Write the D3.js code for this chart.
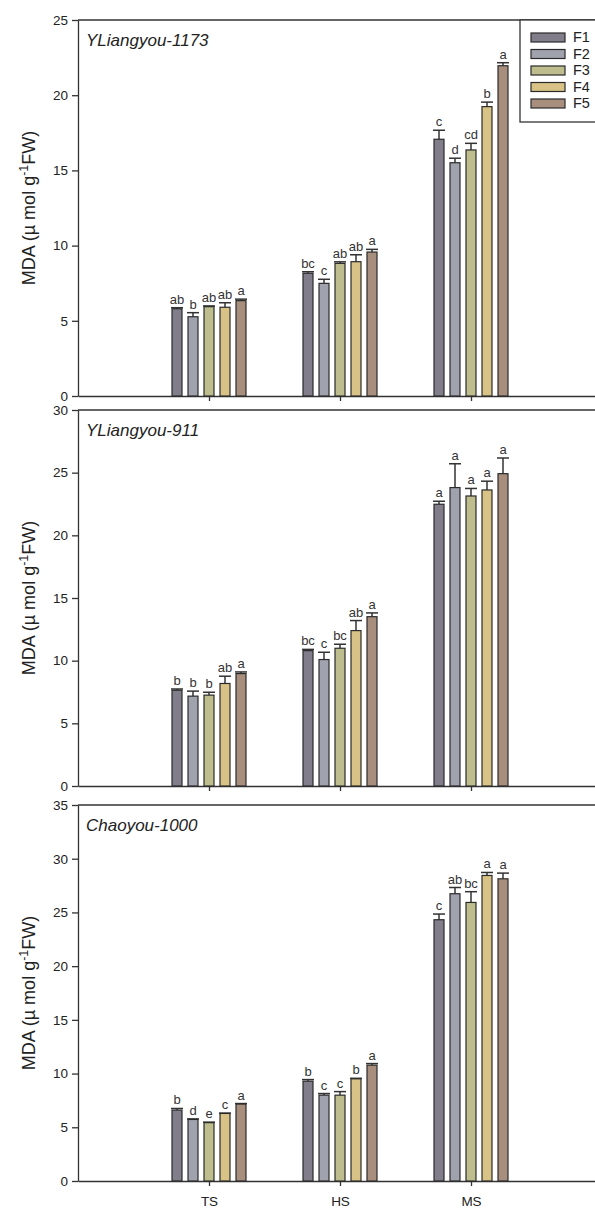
<!DOCTYPE html>
<html>
<head>
<meta charset="utf-8">
<script src="https://cdn.jsdelivr.net/npm/d3@7"></script>
<style>
  body { margin: 0; background: #fff; }
  svg { display: block; font-family: 'Liberation Sans', Arial, sans-serif; }
</style>
</head>
<body>
<svg id="chart" width="595" height="1209"></svg>
<script>
const stages = ['TS', 'HS', 'MS'];
const treatments = ['F1', 'F2', 'F3', 'F4', 'F5'];
const cultivars = ['YLiangyou-1173', 'YLiangyou-911', 'Chaoyou-1000'];
const yMaxes = [25, 30, 35];
const colors = ['#817d8b', '#a0a2ae', '#bdbd8e', '#d8c285', '#a88f7d'];

// means per stage (rows) x treatment (cols)
const means1173 = [
  [5.80, 5.27, 5.94, 5.90, 6.34],
  [8.16, 7.49, 8.82, 8.93, 9.57],
  [17.07, 15.51, 16.36, 19.24, 21.96],
];
const errs1173 = [
  [0.07, 0.27, 0.05, 0.30, 0.10],
  [0.10, 0.27, 0.10, 0.46, 0.18],
  [0.60, 0.30, 0.44, 0.30, 0.20],
];
const letters1173 = [
  ['ab', 'b', 'ab', 'ab', 'a'],
  ['bc', 'c', 'ab', 'ab', 'a'],
  ['c', 'd', 'cd', 'b', 'a'],
];

const means911 = [
  [7.64, 7.17, 7.25, 8.18, 8.97],
  [10.80, 10.09, 10.99, 12.40, 13.51],
  [22.48, 23.81, 23.14, 23.62, 24.92],
];
const errs911 = [
  [0.10, 0.40, 0.23, 0.58, 0.13],
  [0.10, 0.58, 0.32, 0.80, 0.30],
  [0.24, 1.90, 0.60, 0.70, 1.25],
];
const letters911 = [
  ['b', 'b', 'b', 'ab', 'a'],
  ['bc', 'c', 'bc', 'ab', 'a'],
  ['a', 'a', 'a', 'a', 'a'],
];

const means1000 = [
  [6.60, 5.73, 5.43, 6.29, 7.16],
  [9.29, 7.99, 7.99, 9.51, 10.78],
  [24.32, 26.74, 25.93, 28.44, 28.13],
];
const errs1000 = [
  [0.15, 0.05, 0.05, 0.03, 0.05],
  [0.15, 0.15, 0.33, 0.05, 0.15],
  [0.53, 0.58, 1.00, 0.28, 0.53],
];
const letters1000 = [
  ['b', 'd', 'e', 'c', 'a'],
  ['b', 'c', 'c', 'b', 'a'],
  ['c', 'ab', 'bc', 'a', 'a'],
];

const panelMeans = [means1173, means911, means1000];
const panelErrs = [errs1173, errs911, errs1000];
const panelLetters = [letters1173, letters911, letters1000];

const svg = d3.select('#chart');
const ink = '#333';
const left = 78;
const plotH = 376;
const tops = [20, 410, 805];

// stage positions: TS=1, HS=2, MS=3 on a 0..4 axis
const x = d3.scaleLinear().domain([0, 4]).range([left, 602]);
const xOff = d3.scaleBand()
  .domain(treatments)
  .range([-40, 40])
  .paddingInner(0.375)
  .paddingOuter(0.1875);

cultivars.forEach((name, p) => {
  const top = tops[p];
  const y = d3.scaleLinear().domain([0, yMaxes[p]]).range([top + plotH, top]);
  const g = svg.append('g').attr('class', 'panel');

  // frame top line
  g.append('line')
    .attr('x1', left).attr('x2', x(4))
    .attr('y1', top).attr('y2', top)
    .attr('stroke', ink).attr('stroke-width', 1.3);

  const yAxis = g.append('g')
    .attr('transform', `translate(${left},0)`)
    .call(d3.axisLeft(y).tickValues(d3.range(0, yMaxes[p] + 1, 5)).tickSize(6).tickSizeOuter(0).tickPadding(4));
  yAxis.selectAll('path, line').attr('stroke', ink).attr('stroke-width', 1.3);
  yAxis.selectAll('text').attr('font-size', 13.5).attr('fill', '#222')
    .attr('font-family', "'Liberation Sans', Arial, sans-serif");

  const xAxis = g.append('g')
    .attr('transform', `translate(0,${top + plotH})`)
    .call(d3.axisBottom(x).tickValues([1, 2, 3]).tickSize(5).tickSizeOuter(0).tickPadding(10)
      .tickFormat(d => (p === 2 ? stages[d - 1] : '')));
  xAxis.selectAll('path, line').attr('stroke', ink).attr('stroke-width', 1.3);
  xAxis.selectAll('text').attr('font-size', 13.5).attr('fill', '#222')
    .attr('font-family', "'Liberation Sans', Arial, sans-serif");

  // bars
  stages.forEach((s, si) => {
    const cx = x(si + 1);
    treatments.forEach((t, ti) => {
      const v = panelMeans[p][si][ti];
      const e = panelErrs[p][si][ti];
      const bx = cx + xOff(t);
      const bw = xOff.bandwidth();
      const mid = bx + bw / 2;

      g.append('line')
        .attr('x1', mid).attr('x2', mid)
        .attr('y1', y(v)).attr('y2', y(v + e))
        .attr('stroke', ink).attr('stroke-width', 1.5);
      g.append('line')
        .attr('x1', mid - 6).attr('x2', mid + 6)
        .attr('y1', y(v + e)).attr('y2', y(v + e))
        .attr('stroke', ink).attr('stroke-width', 1.5);

      g.append('rect')
        .attr('x', bx)
        .attr('y', y(v))
        .attr('width', bw)
        .attr('height', y(0) - y(v))
        .attr('fill', colors[ti])
        .attr('stroke', '#2a2a2a')
        .attr('stroke-width', 1.2);

      g.append('text')
        .attr('x', mid)
        .attr('y', y(v + e) - 4)
        .attr('text-anchor', 'middle')
        .attr('font-size', 13)
        .attr('fill', '#333')
        .text(panelLetters[p][si][ti]);
    });
  });

  // cultivar title
  g.append('text')
    .attr('x', 86)
    .attr('y', top + 26)
    .attr('font-size', 17)
    .attr('font-style', 'italic')
    .attr('fill', '#222')
    .text(name);

  // y label
  const label = g.append('text')
    .attr('transform', `translate(35,${top + plotH / 2}) rotate(-90)`)
    .attr('text-anchor', 'middle')
    .attr('font-size', 18)
    .attr('fill', '#222');
  label.append('tspan').text('MDA (µ mol g');
  label.append('tspan').attr('dy', -7).attr('font-size', 12.5).text('-1');
  label.append('tspan').attr('dy', 7).text('FW)');
});

// legend in the first panel
const legend = svg.append('g').attr('transform', 'translate(520,20)');
legend.append('rect')
  .attr('x', 0).attr('y', 0)
  .attr('width', 100).attr('height', 102)
  .attr('fill', '#fff')
  .attr('stroke', ink)
  .attr('stroke-width', 1.3);
treatments.forEach((t, i) => {
  legend.append('rect')
    .attr('x', 11).attr('y', 13 + i * 16.5)
    .attr('width', 34).attr('height', 9)
    .attr('fill', colors[i])
    .attr('stroke', '#2a2a2a')
    .attr('stroke-width', 1.2);
  legend.append('text')
    .attr('x', 53).attr('y', 22 + i * 16.5)
    .attr('font-size', 14.5)
    .attr('fill', '#222')
    .text(t);
});
</script>
</body>
</html>
